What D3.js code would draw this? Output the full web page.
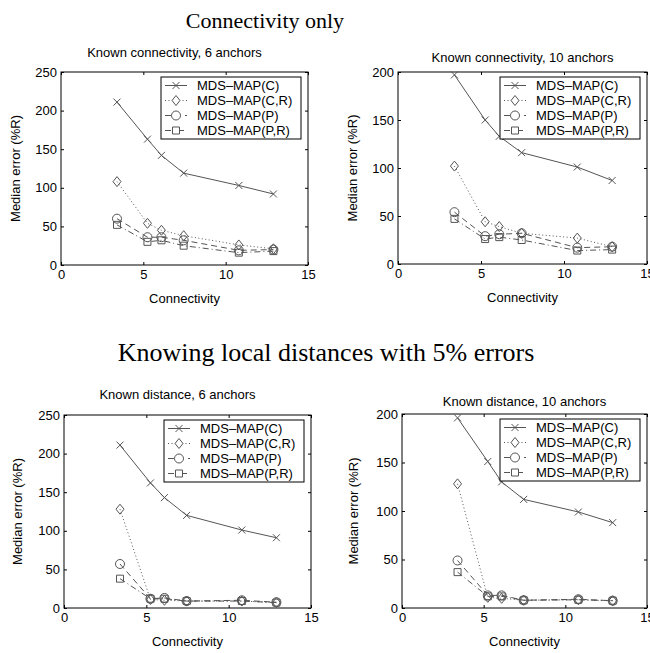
<!DOCTYPE html>
<html>
<head>
<meta charset="utf-8">
<script src="https://cdn.jsdelivr.net/npm/d3@7"></script>
<style>
  body { margin: 0; background: #fff; }
  svg { display: block; }
</style>
</head>
<body>
<script>
// x values shared by every panel
const connectivity = [3.4, 5.25, 6.1, 7.45, 10.8, 12.9];
const seriesNames = ["MDS\u2013MAP(C)", "MDS\u2013MAP(C,R)", "MDS\u2013MAP(P)", "MDS\u2013MAP(P,R)"];
const xTicks = [0, 5, 10, 15];
const yTicks6 = [0, 50, 100, 150, 200, 250];
const yTicks10 = [0, 50, 100, 150, 200];

// Known connectivity, 6 anchors
const conn6C = [211, 163, 142, 119, 103, 92];
const conn6CR = [108, 54, 45, 38, 26, 21];
const conn6P = [60, 36, 36, 32, 19, 20];
const conn6PR = [52, 30, 32, 25, 16, 18];
// Known connectivity, 10 anchors
const conn10C = [197, 150, 133, 116, 101, 87];
const conn10CR = [102, 44, 39, 32, 27, 18];
const conn10P = [54, 29, 31, 32, 17, 18];
const conn10PR = [47, 26, 28, 25, 14, 15];
// Known distance, 6 anchors
const dist6C = [211, 162, 143, 120, 101, 91];
const dist6CR = [128, 11, 10, 9, 9, 7];
const dist6P = [57, 12, 13, 9, 10, 7.5];
const dist6PR = [38, 12, 12, 9, 9, 7];
// Known distance, 10 anchors
const dist10C = [196, 151, 130, 112, 99, 88];
const dist10CR = [128, 11, 10, 8, 8.5, 7.5];
const dist10P = [49, 13, 13, 8, 9, 7.5];
const dist10PR = [37, 12, 12, 8, 8.5, 7.5];

const W = 650, H = 653;
const sans = "'Liberation Sans', Arial, Helvetica, sans-serif";
const serif = "'Liberation Serif', 'Times New Roman', serif";
const lineColor = "#555";

// line style + marker shape per series
const styles = [
  { dash: null, marker: "M-3.5,-3.5L3.5,3.5M-3.5,3.5L3.5,-3.5" },
  { dash: "1,2.5", marker: "M0,-5L4,0L0,5L-4,0Z" },
  { dash: "6,4", marker: "M4.5,0A4.5,4.5 0 1,1 -4.5,0A4.5,4.5 0 1,1 4.5,0Z" },
  { dash: "6,3,1,3", marker: "M-3.5,-3.5h7v7h-7Z" },
];

const panels = [
  { title: "Known connectivity, 6 anchors", box: [61, 308, 72, 265], yTicks: yTicks6,
    series: [conn6C, conn6CR, conn6P, conn6PR], titleDx: -10, titleY: 57, yLabelX: 15 },
  { title: "Known connectivity, 10 anchors", box: [398, 647, 72, 264], yTicks: yTicks10,
    series: [conn10C, conn10CR, conn10P, conn10PR], titleDx: 0, titleY: 62, yLabelX: 352 },
  { title: "Known distance, 6 anchors", box: [64, 311, 415, 608], yTicks: yTicks6,
    series: [dist6C, dist6CR, dist6P, dist6PR], titleDx: -10, titleY: 399, yLabelX: 17 },
  { title: "Known distance, 10 anchors", box: [402, 647, 414, 608], yTicks: yTicks10,
    series: [dist10C, dist10CR, dist10P, dist10PR], titleDx: 0, titleY: 406, yLabelX: 353 },
];

const svg = d3.select("body").append("svg").attr("width", W).attr("height", H);
svg.append("rect").attr("width", W).attr("height", H).attr("fill", "#fff");

svg.append("text").attr("x", 265).attr("y", 28).attr("text-anchor", "middle")
  .attr("font-family", serif).attr("font-size", 22).text("Connectivity only");
svg.append("text").attr("x", 326).attr("y", 361).attr("text-anchor", "middle")
  .attr("font-family", serif).attr("font-size", 26).text("Knowing local distances with 5% errors");

panels.forEach((p) => {
  const [left, right, top, bottom] = p.box;
  const x = d3.scaleLinear().domain([0, 15]).range([left, right]);
  const y = d3.scaleLinear().domain([0, d3.max(p.yTicks)]).range([bottom, top]);
  const g = svg.append("g");

  const styleAxis = (sel) => {
    sel.select(".domain").remove();
    sel.selectAll(".tick line").attr("stroke", "#000");
    sel.selectAll("text").attr("font-family", sans).attr("font-size", 13).attr("fill", "#000");
  };

  g.append("g").attr("transform", `translate(0,${bottom})`)
    .call(d3.axisBottom(x).tickValues(xTicks).tickSize(-3).tickPadding(5))
    .call(styleAxis);
  g.append("g").attr("transform", `translate(0,${top})`)
    .call(d3.axisTop(x).tickValues(xTicks).tickSize(-3).tickFormat(""))
    .call(styleAxis);
  g.append("g").attr("transform", `translate(${left},0)`)
    .call(d3.axisLeft(y).tickValues(p.yTicks).tickSize(-3).tickPadding(4))
    .call(styleAxis);
  g.append("g").attr("transform", `translate(${right},0)`)
    .call(d3.axisRight(y).tickValues(p.yTicks).tickSize(-3).tickFormat(""))
    .call(styleAxis);

  g.append("rect").attr("x", left).attr("y", top)
    .attr("width", right - left).attr("height", bottom - top)
    .attr("fill", "none").attr("stroke", "#000").attr("stroke-width", 1);

  // series lines and markers
  p.series.forEach((vals, i) => {
    const pts = vals.map((v, k) => [connectivity[k], v]);
    g.append("path").datum(pts)
      .attr("d", d3.line().x((d) => x(d[0])).y((d) => y(d[1])))
      .attr("fill", "none").attr("stroke", lineColor).attr("stroke-width", 1)
      .attr("stroke-dasharray", styles[i].dash);
    g.selectAll(null).data(pts).enter().append("path")
      .attr("transform", (d) => `translate(${x(d[0])},${y(d[1])})`)
      .attr("d", styles[i].marker)
      .attr("fill", "none").attr("stroke", lineColor).attr("stroke-width", 1);
  });

  // legend, top right
  const lw = 140, lh = 62;
  const lx = right - 7 - lw, ly = top + 5;
  const lg = g.append("g").attr("transform", `translate(${lx},${ly})`);
  lg.append("rect").attr("width", lw).attr("height", lh)
    .attr("fill", "#fff").attr("stroke", "#000").attr("stroke-width", 1);
  seriesNames.forEach((name, i) => {
    const cy = 8.5 + i * 15;
    lg.append("line").attr("x1", 4).attr("x2", 26).attr("y1", cy).attr("y2", cy)
      .attr("stroke", lineColor).attr("stroke-dasharray", styles[i].dash);
    lg.append("path").attr("transform", `translate(15,${cy})`).attr("d", styles[i].marker)
      .attr("fill", "#fff").attr("stroke", lineColor);
    lg.append("text").attr("x", 36).attr("y", cy + 4.5)
      .attr("font-family", sans).attr("font-size", 13).text(name);
  });

  // titles and axis labels
  g.append("text").attr("x", (left + right) / 2 + p.titleDx).attr("y", p.titleY)
    .attr("text-anchor", "middle").attr("font-family", sans).attr("font-size", 13)
    .text(p.title);
  g.append("text").attr("x", (left + right) / 2).attr("y", bottom + 38)
    .attr("text-anchor", "middle").attr("font-family", sans).attr("font-size", 13)
    .text("Connectivity");
  g.append("text")
    .attr("transform", `translate(${p.yLabelX},${(top + bottom) / 2}) rotate(-90)`)
    .attr("dy", "0.35em").attr("text-anchor", "middle")
    .attr("font-family", sans).attr("font-size", 13).text("Median error (%R)");
});
</script>
</body>
</html>
